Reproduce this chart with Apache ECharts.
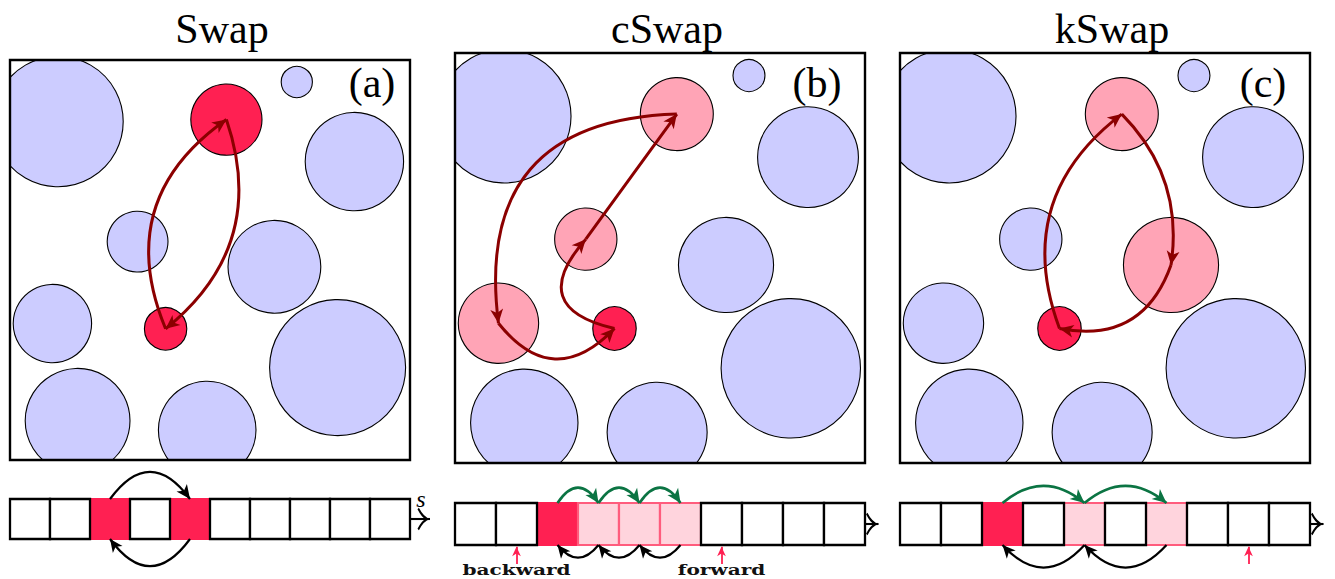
<!DOCTYPE html>
<html>
<head>
<meta charset="utf-8">
<script src="https://cdn.jsdelivr.net/npm/echarts@6/dist/echarts.min.js"></script>
<style>html,body{margin:0;padding:0;background:#fff}#chart{width:1335px;height:579px}</style>
</head>
<body>
<div id="chart"></div>
<script>
// ---------------- data ----------------
const panelTitles = ['Swap', 'cSwap', 'kSwap'];
const panelTags = ['(a)', '(b)', '(c)'];

// particle centres and radii, in units of the box side (x to the right, y downwards)
const circleX = [0.120, 0.717, 0.541, 0.861, 0.319, 0.661, 0.106, 0.389, 0.819, 0.169, 0.493];
const circleY = [0.154, 0.055, 0.149, 0.254, 0.454, 0.517, 0.659, 0.672, 0.769, 0.902, 0.925];
const circleR = [0.163, 0.039, 0.089, 0.123, 0.076, 0.116, 0.098, 0.053, 0.170, 0.131, 0.122];

// particle state per panel: 0 = untouched, 1 = intermediate, 2 = swapped endpoint
const circleStateA = [0, 0, 2, 0, 0, 0, 0, 2, 0, 0, 0];
const circleStateB = [0, 0, 1, 0, 1, 0, 1, 2, 0, 0, 0];
const circleStateC = [0, 0, 1, 0, 0, 1, 0, 2, 0, 0, 0];

// moves between particles: [from, to]
const movesA = [[7, 2], [2, 7]];
const movesB = [[7, 4], [4, 2], [2, 6], [6, 7]];
const movesC = [[7, 2], [2, 5], [5, 7]];

// size-ordered list below each box (10 cells): 0 = plain, 1 = intermediate, 2 = chosen
const stripStateA = [0, 0, 2, 0, 2, 0, 0, 0, 0, 0];
const stripStateB = [0, 0, 2, 1, 1, 1, 0, 0, 0, 0];
const stripStateC = [0, 0, 2, 0, 1, 0, 1, 0, 0, 0];

// jumps along the list: above (forward) and below (back)
const stripUpA = [[2, 4]];
const stripDownA = [[4, 2]];
const stripUpB = [[2, 3], [3, 4], [4, 5]];
const stripDownB = [[3, 2], [4, 3], [5, 4]];
const stripUpC = [[2, 4], [4, 6]];
const stripDownC = [[4, 2], [6, 4]];

// pointers under the list
const pointerCellsA = [];
const pointerCellsB = [1, 6];
const pointerCellsC = [8];
const pointerLabelsB = ['backward', 'forward'];
const pointerLabelsC = [''];
const axisLabelA = 's';

// ---------------- layout & style ----------------
const boxRects = [[10, 60, 400, 400], [455, 53, 410, 410], [900, 53, 410, 410]];
const stripRects = [[10, 499, 400, 40], [455, 503, 410, 42], [900, 503, 410, 42]];
const titleCx = [222, 667, 1112];
const tagCx = [372, 817, 1263];
const moveBend = [[0.40, 0.35], [0.84, 0.001, -0.55, -0.57], [0.37, 0.25, 0.43]];
const upBend = [0.68, 0.75, 0.42];
const downBend = [0.68, 0.62, 0.55];
const upColor = ['#000000', '#0b7443', '#0b7443'];
const axisArrowLen = [0.5, 0.33, 0.33];

const FILL = ['#ccccff', '#ffa4b6', '#ff2052'];
const CELL_FILL = ['#ffffff', '#ffd4dd', '#ff2052'];
const CELL_STROKE = ['#000000', '#ff5c7d', '#ff2052'];
const MOVE_COLOR = '#8b0000';
const POINTER_COLOR = '#ff2052';
// arrow heads pointing up, tip at the centre of a square bounding box
const STEALTH = 'path://M0,0 L4.6,10 L0,7.3 L-4.6,10 Z M0,-10 L0.01,-10 Z M-10,0 L-9.99,0 Z M10,0 L10.01,0 Z';
const TO_HEAD = 'path://M0,0 Q1.1,3.6 6.3,6.2 L5.5,7.0 Q0.8,4.6 0,2.5 Q-0.8,4.6 -5.5,7.0 L-6.3,6.2 Q-1.1,3.6 0,0 Z M0,-7 L0.01,-7 Z M-7,0 L-6.99,0 Z M7,0 L7.01,0 Z';

const circleStates = [circleStateA, circleStateB, circleStateC];
const moves = [movesA, movesB, movesC];
const stripStates = [stripStateA, stripStateB, stripStateC];
const stripUps = [stripUpA, stripUpB, stripUpC];
const stripDowns = [stripDownA, stripDownB, stripDownC];
const pointerCells = [pointerCellsA, pointerCellsB, pointerCellsC];
const pointerLabels = [[], pointerLabelsB, pointerLabelsC];

const chart = echarts.init(document.getElementById('chart'), null, {renderer: 'svg'});
const option = {animation: false, grid: [], xAxis: [], yAxis: [], series: [], graphic: []};

for (let p = 0; p < 3; p++) {
  const b = boxRects[p];
  option.grid.push({left: b[0], top: b[1], width: b[2], height: b[3], containLabel: false});
  option.xAxis.push({gridIndex: p, type: 'value', min: 0, max: 1, show: false});
  option.yAxis.push({gridIndex: p, type: 'value', min: 0, max: 1, inverse: true, show: false});
}
for (let p = 0; p < 3; p++) {
  const s = stripRects[p];
  option.grid.push({left: s[0], top: s[1], width: s[2], height: s[3], containLabel: false});
  option.xAxis.push({gridIndex: 3 + p, type: 'value', min: 0, max: 10, show: false});
  option.yAxis.push({gridIndex: 3 + p, type: 'value', min: 0, max: 1, show: false});
}

function renderCircle(params, api) {
  const c = api.coord([api.value(0), api.value(1)]);
  const r = api.size([api.value(2), api.value(2)])[0];
  const cs = params.coordSys;
  return {
    type: 'circle',
    shape: {cx: c[0], cy: c[1], r: r},
    style: {fill: FILL[api.value(3)], stroke: '#000', lineWidth: 1.1},
    clipPath: {type: 'rect', shape: {x: cs.x, y: cs.y, width: cs.width, height: cs.height}}
  };
}
function renderFrame(params) {
  const cs = params.coordSys;
  return {type: 'rect', shape: {x: cs.x, y: cs.y, width: cs.width, height: cs.height},
    style: {fill: 'none', stroke: '#000', lineWidth: 2.4}};
}
function renderCell(params, api) {
  const i = api.value(0), st = api.value(1);
  const a = api.coord([i, 1]), b = api.coord([i + 1, 0]);
  return {type: 'rect', z2: st === 0 ? 2 : 1,
    shape: {x: a[0], y: a[1], width: b[0] - a[0], height: b[1] - a[1]},
    style: {fill: CELL_FILL[st], stroke: CELL_STROKE[st], lineWidth: st === 0 ? 2.3 : 2.2}};
}

for (let p = 0; p < 3; p++) {
  option.series.push({
    type: 'custom', xAxisIndex: p, yAxisIndex: p, silent: true, z: 2,
    data: circleX.map((x, i) => [x, circleY[i], circleR[i], circleStates[p][i]]),
    renderItem: renderCircle
  });
  option.series.push({
    type: 'lines', coordinateSystem: 'cartesian2d', xAxisIndex: p, yAxisIndex: p,
    silent: true, clip: false, z: 3,
    symbol: ['none', STEALTH], symbolSize: 28,
    lineStyle: {color: MOVE_COLOR, width: 3, opacity: 1},
    data: moves[p].map((m, k) => ({
      coords: [[circleX[m[0]], circleY[m[0]]], [circleX[m[1]], circleY[m[1]]]],
      lineStyle: {curveness: moveBend[p][k]}
    }))
  });
  option.series.push({
    type: 'custom', xAxisIndex: p, yAxisIndex: p, silent: true, z: 10,
    data: [[0.5, 0.5]], renderItem: renderFrame
  });

  const g = 3 + p;
  option.series.push({
    type: 'custom', xAxisIndex: g, yAxisIndex: g, silent: true, z: 2,
    data: stripStates[p].map((s, i) => [i, s]), renderItem: renderCell
  });
  option.series.push({
    type: 'lines', coordinateSystem: 'cartesian2d', xAxisIndex: g, yAxisIndex: g,
    silent: true, clip: false, z: 4,
    symbol: ['none', STEALTH], symbolSize: 28,
    lineStyle: {color: upColor[p], width: p === 0 ? 2.2 : 2.6, opacity: 1},
    data: stripUps[p].map((m) => ({coords: [[m[0] + 0.5, 1], [m[1] + 0.5, 1]], lineStyle: {curveness: upBend[p]}}))
  });
  option.series.push({
    type: 'lines', coordinateSystem: 'cartesian2d', xAxisIndex: g, yAxisIndex: g,
    silent: true, clip: false, z: 4,
    symbol: ['none', STEALTH], symbolSize: 26,
    lineStyle: {color: '#000', width: 2.2, opacity: 1},
    data: stripDowns[p].map((m) => ({coords: [[m[0] + 0.5, 0], [m[1] + 0.5, 0]], lineStyle: {curveness: downBend[p]}}))
  });
  option.series.push({
    type: 'lines', coordinateSystem: 'cartesian2d', xAxisIndex: g, yAxisIndex: g,
    silent: true, clip: false, z: 4,
    symbol: ['none', TO_HEAD], symbolSize: 25,
    lineStyle: {color: '#000', width: 2.1, opacity: 1},
    data: [{coords: [[stripStates[p].length, 0.5], [stripStates[p].length + axisArrowLen[p], 0.5]]}]
  });
  if (pointerCells[p].length) {
    option.series.push({
      type: 'lines', coordinateSystem: 'cartesian2d', xAxisIndex: g, yAxisIndex: g,
      silent: true, clip: false, z: 4,
      symbol: ['none', STEALTH], symbolSize: 19,
      lineStyle: {color: POINTER_COLOR, width: 1.8, opacity: 1},
      data: pointerCells[p].map(i => ({coords: [[i + 0.5, -0.45], [i + 0.5, -0.04]]}))
    });
    option.series.push({
      type: 'custom', xAxisIndex: g, yAxisIndex: g, silent: true, z: 4,
      data: pointerCells[p].map((i, k) => [i + 0.5, k]),
      renderItem: function (params, api) {
        const c = api.coord([api.value(0), 0]);
        const txt = pointerLabels[p][api.value(1)] || '';
        return {type: 'text', x: c[0], y: c[1] + 30 - 5, scaleX: 1.34,
          style: {text: txt, font: 'bold 15px "DejaVu Serif"', fill: '#111', align: 'center', verticalAlign: 'middle'}};
      }
    });
  }

  option.graphic.push({type: 'text', x: titleCx[p], y: 43 - 14,
    style: {text: panelTitles[p], font: '42px "Liberation Serif"', fill: '#000', align: 'center', verticalAlign: 'middle'}});
  option.graphic.push({type: 'text', x: tagCx[p], y: 97 - 14,
    style: {text: panelTags[p], font: '42px "Liberation Serif"', fill: '#000', align: 'center', verticalAlign: 'middle'}});
}
option.graphic.push({type: 'text', x: 421, y: 507 - 8,
  style: {text: axisLabelA, font: 'italic 24px "Liberation Serif"', fill: '#000', align: 'center', verticalAlign: 'middle'}});

chart.setOption(option);
</script>
</body>
</html>
